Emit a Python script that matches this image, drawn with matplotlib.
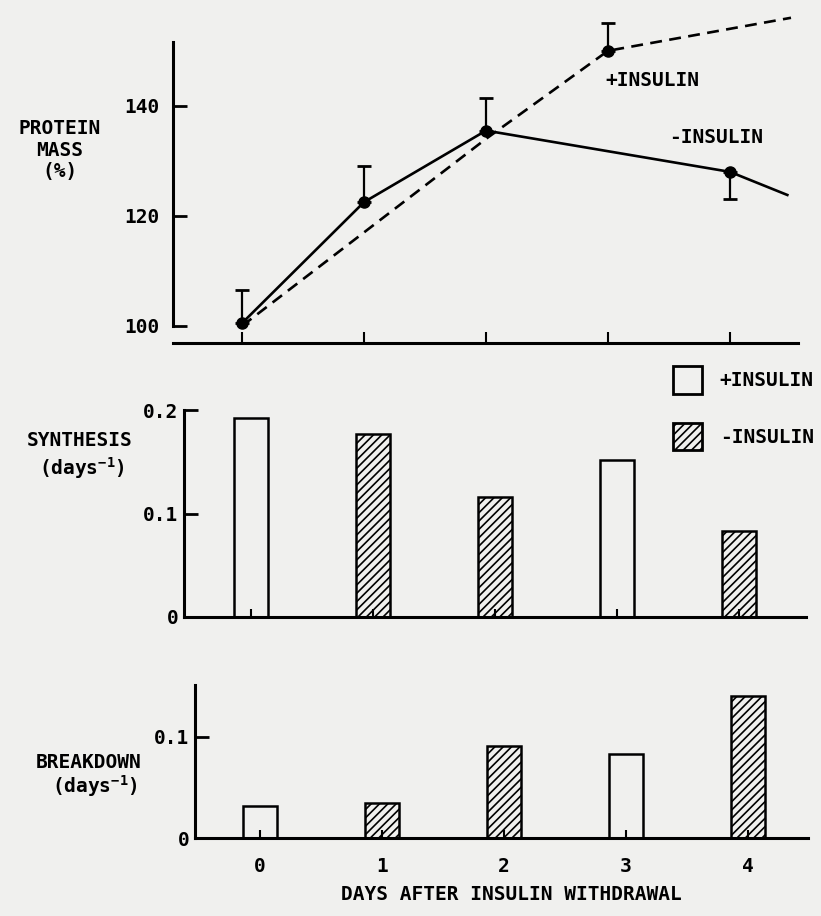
import matplotlib
matplotlib.use("Agg")
import matplotlib.pyplot as plt
from matplotlib.patches import Patch

# protein mass (%)
days_minus = [0, 1, 2, 4, 4.47]
mass_minus = [100.5, 122.5, 135.5, 128, 123.8]
err_minus_low = [0, 0, 0, 5, 0]
err_minus_high = [6, 6.5, 6, 0, 0]

days_plus = [0, 2, 3, 4.5]
mass_plus = [100, 134, 150, 156]
err_plus_high = [0, 0, 5, 0]

# rates per day (open = +insulin, hatched = -insulin)
days = [0, 1, 2, 3, 4]
insulin = [True, False, False, True, False]
synthesis = [0.192, 0.177, 0.116, 0.152, 0.083]
breakdown = [0.032, 0.035, 0.091, 0.083, 0.14]

W, H = 821, 916
FONT = "DejaVu Sans Mono"
plt.rcParams["font.family"] = FONT
plt.rcParams["font.weight"] = "bold"
plt.rcParams["hatch.linewidth"] = 1.2
plt.rcParams["mathtext.fontset"] = "custom"
plt.rcParams["mathtext.rm"] = FONT + ":bold"
plt.rcParams["mathtext.default"] = "rm"

BG = "#f0f0ee"
fig = plt.figure(figsize=(W / 100, H / 100), dpi=100, facecolor=BG)


def px_axes(left, top, right, bottom):
    """Add axes from pixel box (origin top-left)."""
    ax = fig.add_axes([left / W, 1 - bottom / H, (right - left) / W, (bottom - top) / H])
    ax.set_facecolor("none")
    for s in ["top", "right"]:
        ax.spines[s].set_visible(False)
    for s in ["left", "bottom"]:
        ax.spines[s].set_linewidth(2.2)
    return ax


def day_lim(left, right, origin, step=122.0):
    return ((left - origin) / step, (right - origin) / step)


# ---- top panel: protein mass
ax1 = px_axes(173, 42, 798, 343)
ax1.set_xlim(*day_lim(173, 798, 242))
ax1.set_ylim(96.9, 151.6)
ax1.spines["left"].set_bounds(100, 151.6)
ax1.plot(days_minus, mass_minus, color="black", lw=1.9, clip_on=False)
ax1.plot(days_plus, mass_plus, color="black", lw=1.9, dashes=(4.5, 2.8), clip_on=False)
ax1.errorbar(days_minus[:4], mass_minus[:4],
             yerr=[err_minus_low[:4], err_minus_high[:4]],
             fmt="o", color="black", ms=8, elinewidth=1.6, capsize=5, capthick=2,
             clip_on=False)
ax1.errorbar(days_plus[2:3], mass_plus[2:3], yerr=[[0], err_plus_high[2:3]],
             fmt="o", color="black", ms=8, elinewidth=1.6, capsize=5, capthick=2,
             clip_on=False)
ax1.set_yticks([100, 120, 140])
ax1.set_xticks(days)
ax1.set_xticklabels([])
ax1.tick_params(axis="y", direction="in", length=10, width=2, labelsize=14, pad=10)
ax1.tick_params(axis="x", direction="in", length=8, width=1.5)
ax1.text(2.98, 144.6, "+INSULIN", fontsize=14, va="center", ha="left")
ax1.text(3.5, 134.2, "-INSULIN", fontsize=14, va="center", ha="left")


def rate_bars(ax, values):
    for d, v, ins in zip(days, values, insulin):
        ax.bar(d, v, width=0.28, facecolor="none", edgecolor="black", linewidth=1.8,
               hatch=None if ins else "////", zorder=3)
    ax.set_xticks(days)
    ax.tick_params(axis="x", direction="in", length=6, width=1.5)


# ---- middle panel: synthesis
ax2 = px_axes(184, 410, 806, 617)
ax2.set_xlim(*day_lim(184, 806, 251))
ax2.set_ylim(0, 0.2)
rate_bars(ax2, synthesis)
ax2.set_xticklabels([])
ax2.set_yticks([0, 0.1, 0.2])
ax2.set_yticklabels(["0", "0.1", "0.2"])
ax2.tick_params(axis="y", direction="in", length=10, width=2, labelsize=14, pad=4)
ax2.legend(handles=[Patch(facecolor="none", edgecolor="black", lw=2, label="+INSULIN"),
                    Patch(facecolor="none", edgecolor="black", lw=2, hatch="////",
                          label="-INSULIN")],
           loc="upper left", bbox_to_anchor=(673 / W, 1 - 366 / H),
           bbox_transform=fig.transFigure, frameon=False, fontsize=14,
           handlelength=1.5, handleheight=1.8, handletextpad=0.9,
           labelspacing=1.5, borderpad=0, borderaxespad=0)

# ---- bottom panel: breakdown
ax3 = px_axes(195, 685, 808, 838)
ax3.set_xlim(*day_lim(195, 808, 260))
ax3.set_ylim(0, 0.151)
rate_bars(ax3, breakdown)
ax3.set_xticklabels([str(d) for d in days], fontsize=14)
ax3.tick_params(axis="x", pad=14)
ax3.set_yticks([0, 0.1])
ax3.set_yticklabels(["0", "0.1"])
ax3.tick_params(axis="y", direction="in", length=10, width=2, labelsize=14, pad=4)

# ---- axis titles
fig.text(60 / W, 1 - 150 / H, "PROTEIN\nMASS\n(%)", fontsize=14, ha="center",
         va="center", linespacing=1.2)
fig.text(80 / W, 1 - 440 / H, "SYNTHESIS", fontsize=14, ha="center", va="center")
fig.text(82 / W, 1 - 468 / H, "(days$^{-1}$)", fontsize=14, ha="center", va="center")
fig.text(89 / W, 1 - 762 / H, "BREAKDOWN", fontsize=14, ha="center", va="center")
fig.text(95 / W, 1 - 786 / H, "(days$^{-1}$)", fontsize=14, ha="center", va="center")
fig.text(511 / W, 1 - 895 / H, "DAYS AFTER INSULIN WITHDRAWAL", fontsize=14,
         ha="center", va="center")

fig.savefig("out.png", dpi=100, facecolor=BG)
